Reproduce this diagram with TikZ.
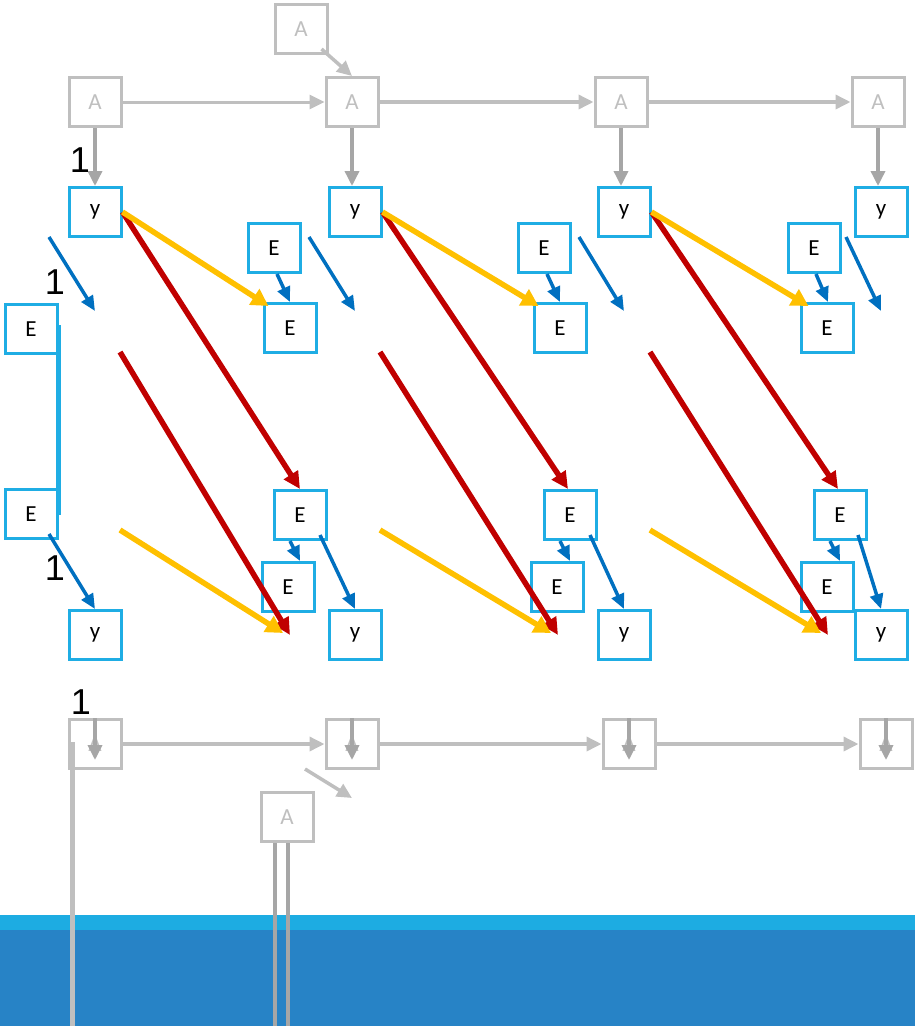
\documentclass[tikz,border=0pt]{standalone}
\usepackage{fontspec}
\setmainfont{Carlito}
\newfontfamily\numfont{Liberation Sans}
\usetikzlibrary{arrows.meta}
\definecolor{lgray}{HTML}{BFBFBF}
\definecolor{dgray}{HTML}{A6A6A6}
\definecolor{boxblue}{HTML}{1FADE4}
\definecolor{arrblue}{HTML}{0070C0}
\definecolor{bandlight}{HTML}{1DACE2}
\definecolor{banddark}{HTML}{2783C6}
\definecolor{myred}{HTML}{C00000}
\definecolor{myyellow}{HTML}{FFC000}
\tikzset{
  bbox/.style={draw=boxblue,line width=3pt,minimum width=52pt,minimum height=49pt,inner sep=0pt,font=\fontsize{23}{23}\selectfont,text=black},
  abox/.style={draw=lgray,line width=3pt,minimum width=52pt,minimum height=49pt,inner sep=0pt,font=\fontsize{23}{23}\selectfont,text=lgray},
  garr/.style={draw=lgray,line width=3.5pt,-{Triangle[length=15pt,width=14pt]}},
  dgarr/.style={draw=dgray,line width=3.5pt,-{Triangle[length=15pt,width=14pt]}},
  barr/.style={draw=arrblue,line width=3.5pt,-{Triangle[length=15pt,width=13pt]}},
  rarr/.style={draw=myred,line width=5.5pt,-{Triangle[length=17pt,width=16pt]}},
  yarr/.style={draw=myyellow,line width=5.5pt,-{Triangle[length=17pt,width=18pt]}},
  onelab/.style={font=\numfont\fontsize{36}{36}\selectfont,inner sep=0pt}
}
\begin{document}
\begin{tikzpicture}[x=1pt,y=-1pt]
\useasboundingbox (0,0) rectangle (915,1026);
% bands
\fill[bandlight] (0,915) rectangle (915,930);
\fill[banddark] (0,930) rectangle (915,1026);
% top A row
\node[abox] (at) at (301,29) {A};
\node[abox] (a1) at (95,102) {A};
\node[abox] (a2) at (352,102) {A};
\node[abox] (a3) at (621,102) {A};
\node[abox] (a4) at (878,102) {A};
% y top
\node[bbox] (y1) at (95,212) {y};
\node[bbox] (y2) at (355,212) {y};
\node[bbox] (y3) at (624,212) {y};
\node[bbox] (y4) at (881,212) {y};
% E nodes
\node[bbox] (ea1) at (274,248) {E};
\node[bbox] (eb1) at (290,328) {E};
\node[bbox] (ea2) at (544,248) {E};
\node[bbox] (eb2) at (560,328) {E};
\node[bbox] (ea3) at (814,248) {E};
\node[bbox] (eb3) at (827,328) {E};
\node[bbox] (el1) at (31,329) {E};
\node[bbox] (el2) at (31,514) {E};
\node[bbox] (ec1) at (300,515) {E};
\node[bbox] (ed1) at (288,587) {E};
\node[bbox] (ec2) at (570,515) {E};
\node[bbox] (ed2) at (557,587) {E};
\node[bbox] (ec3) at (840,515) {E};
\node[bbox] (ed3) at (827,587) {E};
% y bottom
\node[bbox] (yb1) at (95,635) {y};
\node[bbox] (yb2) at (355,635) {y};
\node[bbox] (yb3) at (624,635) {y};
\node[bbox] (yb4) at (881,635) {y};
% lower A row
\node[abox] (la1) at (95,744) {A};
\node[abox] (la2) at (352,744) {A};
\node[abox] (la3) at (629,744) {A};
\node[abox] (la4) at (886,744) {A};
\node[abox] (lab) at (287,817) {A};
% free coordinates
\coordinate (bu1s) at (49,237); \coordinate (bu1e) at (95,311);
\coordinate (bu2s) at (309,237); \coordinate (bu2e) at (355,311);
\coordinate (bu3s) at (579,237); \coordinate (bu3e) at (624,311);
\coordinate (bu4s) at (846,237); \coordinate (bu4e) at (881,311);
\coordinate (r1s) at (120,352); \coordinate (r1e) at (290,635);
\coordinate (r2s) at (380,352); \coordinate (r2e) at (558,635);
\coordinate (r3s) at (650,352); \coordinate (r3e) at (828,635);
\coordinate (y1s) at (120,530); \coordinate (y1e) at (283,633);
\coordinate (y2s) at (380,530); \coordinate (y2e) at (551,633);
\coordinate (y3s) at (650,530); \coordinate (y3e) at (821,633);
\coordinate (gds) at (305,769); \coordinate (gde) at (352,798);
% light blue bar
\draw[boxblue,line width=5pt] (58,325) -- (58,515);
% top gray arrows
\draw[garr] (at.south east) ++(-7,-6) -- (a2.north);
\draw[garr,line width=3pt] (a1) -- (a2);
\draw[garr] (a2) -- (a3);
\draw[garr] (a3) -- (a4);
\draw[dgarr] (a1.south) -- (a1.south |- y1.north);
\draw[dgarr] (a2.south) -- (a2.south |- y2.north);
\draw[dgarr] (a3.south) -- (a3.south |- y3.north);
\draw[dgarr] (a4.south) -- (a4.south |- y4.north);
% blue arrows upper
\draw[barr] (bu1s) -- (bu1e);
\draw[barr] (bu2s) -- (bu2e);
\draw[barr] (bu3s) -- (bu3e);
\draw[barr] (bu4s) -- (bu4e);
\draw[barr] ([xshift=3pt]ea1.south) -- (eb1.north);
\draw[barr] ([xshift=3pt]ea2.south) -- (eb2.north);
\draw[barr] ([xshift=2pt]ea3.south) -- ([xshift=1pt]eb3.north);
% blue arrows lower
\draw[barr] ([shift={(18,-6)}]el2.south) -- (yb1.north);
\draw[barr] ([shift={(20,-6)}]ec1.south) -- (yb2.north);
\draw[barr] ([shift={(20,-6)}]ec2.south) -- (yb3.north);
\draw[barr] ([shift={(18,-6)}]ec3.south) -- (yb4.north);
\draw[barr] ([xshift=-10pt]ec1.south) -- ([xshift=12pt]ed1.north);
\draw[barr] ([xshift=-10pt]ec2.south) -- ([xshift=13pt]ed2.north);
\draw[barr] ([xshift=-10pt]ec3.south) -- ([xshift=13pt]ed3.north);
% red arrows
\draw[rarr] (y1.east) -- (ec1.north);
\draw[rarr] (y2.east) -- ([xshift=-2pt]ec2.north);
\draw[rarr] (y3.east) -- ([xshift=-2pt]ec3.north);
\draw[rarr] (r1s) -- (r1e);
\draw[rarr] (r2s) -- (r2e);
\draw[rarr] (r3s) -- (r3e);
% yellow arrows
\draw[yarr] (y1.east) -- ([shift={(6,4)}]eb1.north west);
\draw[yarr] (y2.east) -- ([shift={(6,4)}]eb2.north west);
\draw[yarr] (y3.east) -- ([shift={(9,4)}]eb3.north west);
\draw[yarr] (y1s) -- (y1e);
\draw[yarr] (y2s) -- (y2e);
\draw[yarr] (y3s) -- (y3e);
% lower gray arrows
\draw[garr] (la1) -- (la2);
\draw[garr] (la2) -- (la3);
\draw[garr] (la3) -- (la4);
\draw[dgarr] (la1.north) -- ([yshift=10pt]la1.south);
\draw[dgarr] (la2.north) -- ([yshift=10pt]la2.south);
\draw[dgarr] (la3.north) -- ([yshift=10pt]la3.south);
\draw[dgarr] (la4.north) -- ([yshift=10pt]la4.south);
\draw[garr] (gds) -- (gde);
% vertical lines to bottom
\coordinate (v1s) at (72,742); \coordinate (v1e) at (72,1026);
\draw[lgray,line width=5pt] (v1s) -- (v1e);
\draw[dgray,line width=3.5pt] ([xshift=-12pt]lab.south) -- ++(0,185);
\draw[dgray,line width=3.5pt] ([xshift=1pt]lab.south) -- ++(0,185);
% labels
\node[onelab] (l1) at (80,160) {1};
\node[onelab] (l2) at (55,282) {1};
\node[onelab] (l3) at (55,568) {1};
\node[onelab] (l4) at (81,702) {1};
\end{tikzpicture}
\end{document}
